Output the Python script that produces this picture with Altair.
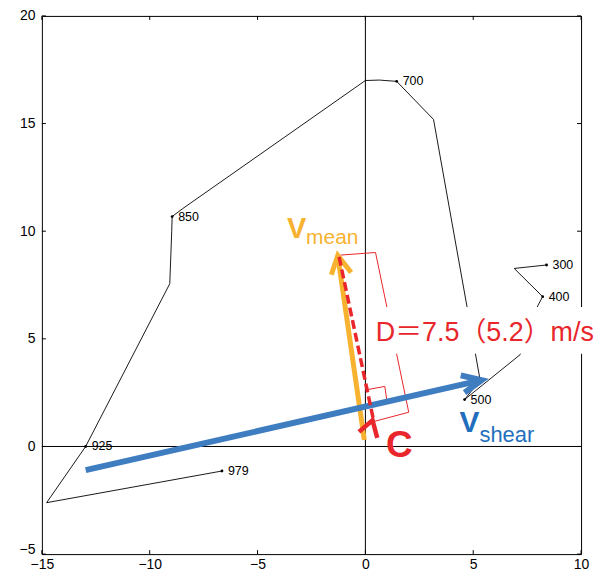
import altair as alt
import pandas as pd

# ---------------- data (m/s) ----------------
x_ticks = [-15, -10, -5, 0, 5, 10]
y_ticks = [-5, 0, 5, 10, 15, 20]

# hodograph vertices, from the surface (979 hPa) upward
hodo_u = [-6.65, -14.78, -12.97, -9.07, -8.98, -8.96, -8.47, 0.0, 0.65, 1.45, 3.16, 5.32, 4.60, 7.17, 8.00, 8.22, 6.90, 8.40]
hodo_v = [-1.14, -2.61, 0.0, 7.56, 10.0, 10.68, 11.05, 17.0, 17.02, 16.96, 15.19, 3.08, 2.18, 4.26, 6.55, 6.96, 8.27, 8.43]

level_names = ["979", "925", "850", "700", "500", "400", "300"]
level_u = [-6.65, -12.97, -8.96, 1.45, 4.60, 8.22, 8.40]
level_v = [-1.14, 0.0, 10.68, 16.96, 2.18, 6.96, 8.43]

# mean wind vector (orange)
vmean_shaft_u = [-0.05, -1.28]
vmean_shaft_v = [0.30, 8.87]
vmean_head_u = [-1.58, -1.28, -0.66]
vmean_head_v = [7.98, 8.87, 8.08]

# shear vector (blue)
vshear_shaft_u = [-12.97, 5.39]
vshear_shaft_v = [-1.10, 3.08]
vshear_head_u = [4.42, 5.39, 4.60]
vshear_head_v = [3.30, 3.08, 2.50]

# C vector (red) and dashed line to the tip of the mean wind
c_head_u = [-0.30, 0.33, 0.55]
c_head_v = [0.68, 1.22, 0.40]
dash_u = [-1.22, 0.36]
dash_v = [8.81, 1.30]

# distance bracket and right-angle mark (thin red)
bracket_u = [-1.15, 0.47, 2.01, 0.43]
bracket_v = [8.89, 9.01, 1.59, 1.17]
rangle_u = [0.09, 0.90, 1.00]
rangle_v = [2.64, 2.79, 2.10]

# white box behind the D label
box_u = [0.43, 11.34]
box_v = [4.31, 6.48]

# annotation texts and anchors
ann_text = ["V", "mean", "V", "shear", "C", "D＝7.5（5.2）m/s"]
ann_u = [-3.63, -2.75, 4.36, 5.29, 0.95, 0.48]
ann_v = [9.68, 9.40, 0.69, 0.19, -0.51, 4.92]

# ---------------- chart ----------------
W, H = 541, 540
sx = alt.Scale(domain=[-15, 10], nice=False, zero=False)
sy = alt.Scale(domain=[-5, 20], nice=False, zero=False)
LF = "Liberation Sans"
ax_x = alt.Axis(values=x_ticks, title=None, domain=False, ticks=False, grid=False,
                labelFont=LF, labelFontSize=14, labelColor="black", labelPadding=3,
                labelFlush=False, labelOverlap=False)
ax_y = alt.Axis(values=y_ticks, title=None, domain=False, ticks=False, grid=False,
                labelFont=LF, labelFontSize=14, labelColor="black", labelPadding=7,
                labelFlush=False, labelOverlap=False,
                labelOffset={"condition": {"test": "datum.value === -5", "value": -5}, "value": 0})


def X():
    return alt.X("x:Q", scale=sx, axis=ax_x)


def Y():
    return alt.Y("y:Q", scale=sy, axis=ax_y)


def poly(us, vs, seg=0):
    return pd.DataFrame({"x": us, "y": vs, "i": list(range(len(us))), "seg": seg})


def line_layer(df, color, width, dash=None, cap="butt"):
    kw = dict(color=color, strokeWidth=width, strokeCap=cap, strokeJoin="miter")
    if dash:
        kw["strokeDash"] = dash
    return alt.Chart(df).mark_line(**kw).encode(x=X(), y=Y(), order="i:Q", detail="seg:N")


layers = []

# zero lines
layers.append(alt.Chart(pd.DataFrame({"x": [0]})).mark_rule(color="black", strokeWidth=1).encode(x=X()))
layers.append(alt.Chart(pd.DataFrame({"y": [0]})).mark_rule(color="black", strokeWidth=1).encode(y=Y()))

# inward ticks on all four sides
dfx = pd.DataFrame({"x": x_ticks})
dfy = pd.DataFrame({"y": y_ticks})
layers.append(alt.Chart(dfx).mark_rule(color="black").encode(x=X(), y=alt.value(H), y2=alt.value(H - 4)))
layers.append(alt.Chart(dfx).mark_rule(color="black").encode(x=X(), y=alt.value(0), y2=alt.value(4)))
layers.append(alt.Chart(dfy).mark_rule(color="black").encode(y=Y(), x=alt.value(0), x2=alt.value(4)))
layers.append(alt.Chart(dfy).mark_rule(color="black").encode(y=Y(), x=alt.value(W), x2=alt.value(W - 4)))

# hodograph
layers.append(line_layer(poly(hodo_u, hodo_v), "black", 0.9))
lev = pd.DataFrame({"x": level_u, "y": level_v, "t": level_names})
layers.append(alt.Chart(lev).mark_point(filled=True, size=8, color="black", opacity=1).encode(x=X(), y=Y()))
layers.append(alt.Chart(lev).mark_text(align="left", baseline="middle", dx=6, font=LF, fontSize=12.5,
                                       color="black").encode(x=X(), y=Y(), text="t:N"))

# thin red bracket & right angle
layers.append(line_layer(pd.concat([poly(bracket_u, bracket_v, 0), poly(rangle_u, rangle_v, 1)]), "#E8262B", 1))

# white box (covers lines under the D label)
box = pd.DataFrame({"x": [box_u[0]], "x2": [box_u[1]], "y": [box_v[0]], "y2": [box_v[1]]})
layers.append(alt.Chart(box).mark_rect(color="white", opacity=1).encode(x=X(), x2="x2:Q", y=Y(), y2="y2:Q"))

# vectors
layers.append(line_layer(pd.concat([poly(vmean_shaft_u, vmean_shaft_v, 0), poly(vmean_head_u, vmean_head_v, 1)]),
                         "#F7B22F", 5))
layers.append(line_layer(pd.concat([poly(vshear_shaft_u, vshear_shaft_v, 0), poly(vshear_head_u, vshear_head_v, 1)]),
                         "#3F7DC1", 6))
layers.append(line_layer(poly(dash_u, dash_v), "#E8262B", 3.5, dash=[9, 4]))
layers.append(line_layer(poly(c_head_u, c_head_v), "#E8262B", 4.5))

# annotation texts
ann_color = ["#F7B22F", "#F7B22F", "#1F6FBE", "#1F6FBE", "#E8262B", "#E8262B"]
ann_size = [29, 21, 30, 22, 37, 27]
ann_weight = ["bold", "normal", "bold", "normal", "bold", "normal"]
for t, u, v, c, s, w in zip(ann_text, ann_u, ann_v, ann_color, ann_size, ann_weight):
    d = pd.DataFrame({"x": [u], "y": [v], "t": [t]})
    layers.append(alt.Chart(d).mark_text(align="left", baseline="alphabetic", color=c, fontSize=s,
                                         fontWeight=w, font="Liberation Sans, Noto Sans CJK JP")
                  .encode(x=X(), y=Y(), text="t:N"))

chart = alt.layer(*layers).properties(
    width=W, height=H,
    autosize=alt.AutoSizeParams(type="none"),
    padding={"left": 34, "top": 7, "right": 20, "bottom": 16},
).configure_view(stroke="black", strokeWidth=1)

chart.save("out.html", embed_options={"renderer": "svg", "actions": False})
